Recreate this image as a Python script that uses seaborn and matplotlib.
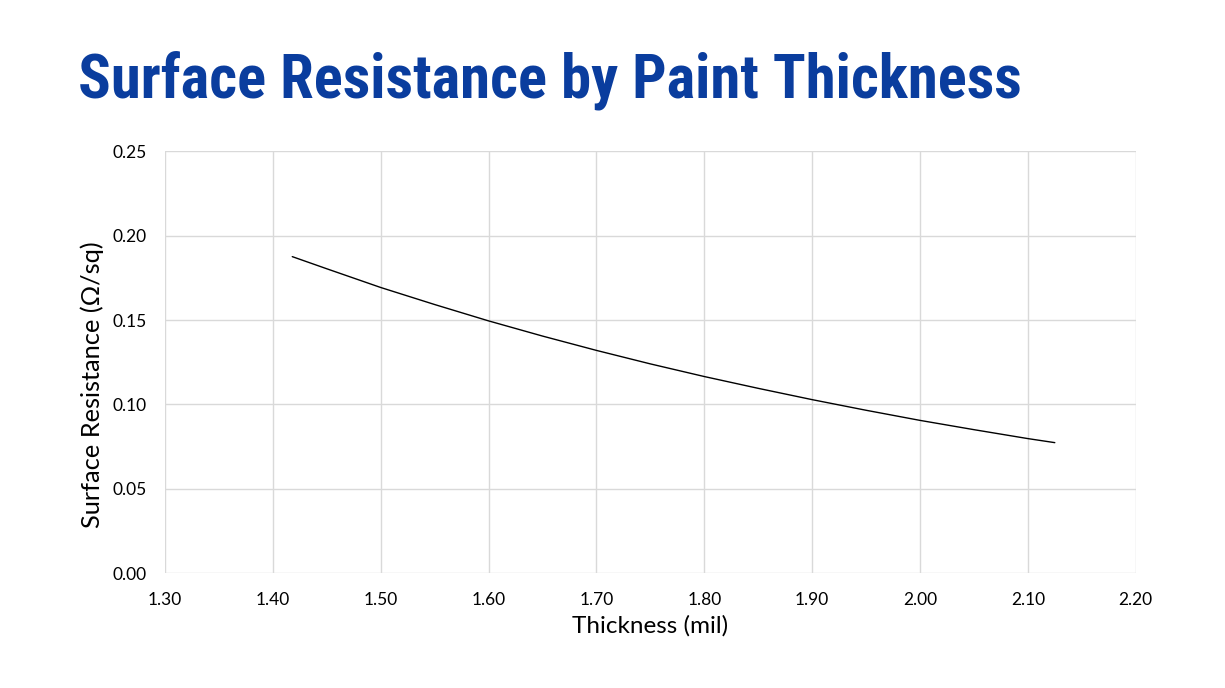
import matplotlib
matplotlib.use("Agg")
import matplotlib.pyplot as plt
import seaborn as sns
import pandas as pd

# Data
thickness_mil = [1.418, 1.45, 1.50, 1.55, 1.60, 1.65, 1.70, 1.75, 1.80,
                 1.85, 1.90, 1.95, 2.00, 2.05, 2.10, 2.125]
resistance = [0.1876, 0.1804, 0.1693, 0.1592, 0.1495, 0.1405, 0.1320, 0.1240,
              0.1165, 0.1095, 0.1028, 0.0965, 0.0905, 0.0850, 0.0797, 0.0773]
x_ticks = [1.30, 1.40, 1.50, 1.60, 1.70, 1.80, 1.90, 2.00, 2.10, 2.20]
y_ticks = [0.00, 0.05, 0.10, 0.15, 0.20, 0.25]

title = "Surface Resistance by Paint Thickness"
x_label = "Thickness (mil)"
y_label = "Surface Resistance (Ω/sq)"

df = pd.DataFrame({"x": thickness_mil, "y": resistance})

sns.set_theme(style="whitegrid")
plt.rcParams["font.family"] = ["Lato", "DejaVu Sans"]

fig = plt.figure(figsize=(12.25, 6.88), dpi=100)
ax = fig.add_axes([165 / 1225, 1 - 573 / 688, (1135.7 - 165) / 1225, (573 - 151.4) / 688])

sns.lineplot(data=df, x="x", y="y", ax=ax, color="black", linewidth=1.0)

ax.set_xlim(1.30, 2.20)
ax.set_ylim(0.0, 0.25)
ax.set_xticks(x_ticks)
ax.set_yticks(y_ticks)
ax.set_xticklabels([f"{v:.2f}" for v in x_ticks])
ax.set_yticklabels([f"{v:.2f}" for v in y_ticks])
ax.tick_params(axis="both", length=0, labelsize=12.5, colors="black")
ax.tick_params(axis="x", pad=14)
ax.tick_params(axis="y", pad=13)

ax.grid(True, color="#d9d9d9", linewidth=1.0)
for s in ax.spines.values():
    s.set_visible(False)
ax.set_facecolor("white")

ax.set_xlabel(x_label, fontsize=17.5, color="black", labelpad=5)
ax.set_ylabel(y_label, fontsize=18.3, color="black")
ax.yaxis.set_label_coords(-0.063, 0.446)

fig.text(78 / 1225, 1 - 97 / 688, title, fontsize=43.7, fontweight="bold",
         color="#0a3d9e", ha="left", va="baseline",
         family=["Roboto Condensed", "DejaVu Sans"], fontstretch="condensed")

fig.savefig("out.png", dpi=100, facecolor="white")
